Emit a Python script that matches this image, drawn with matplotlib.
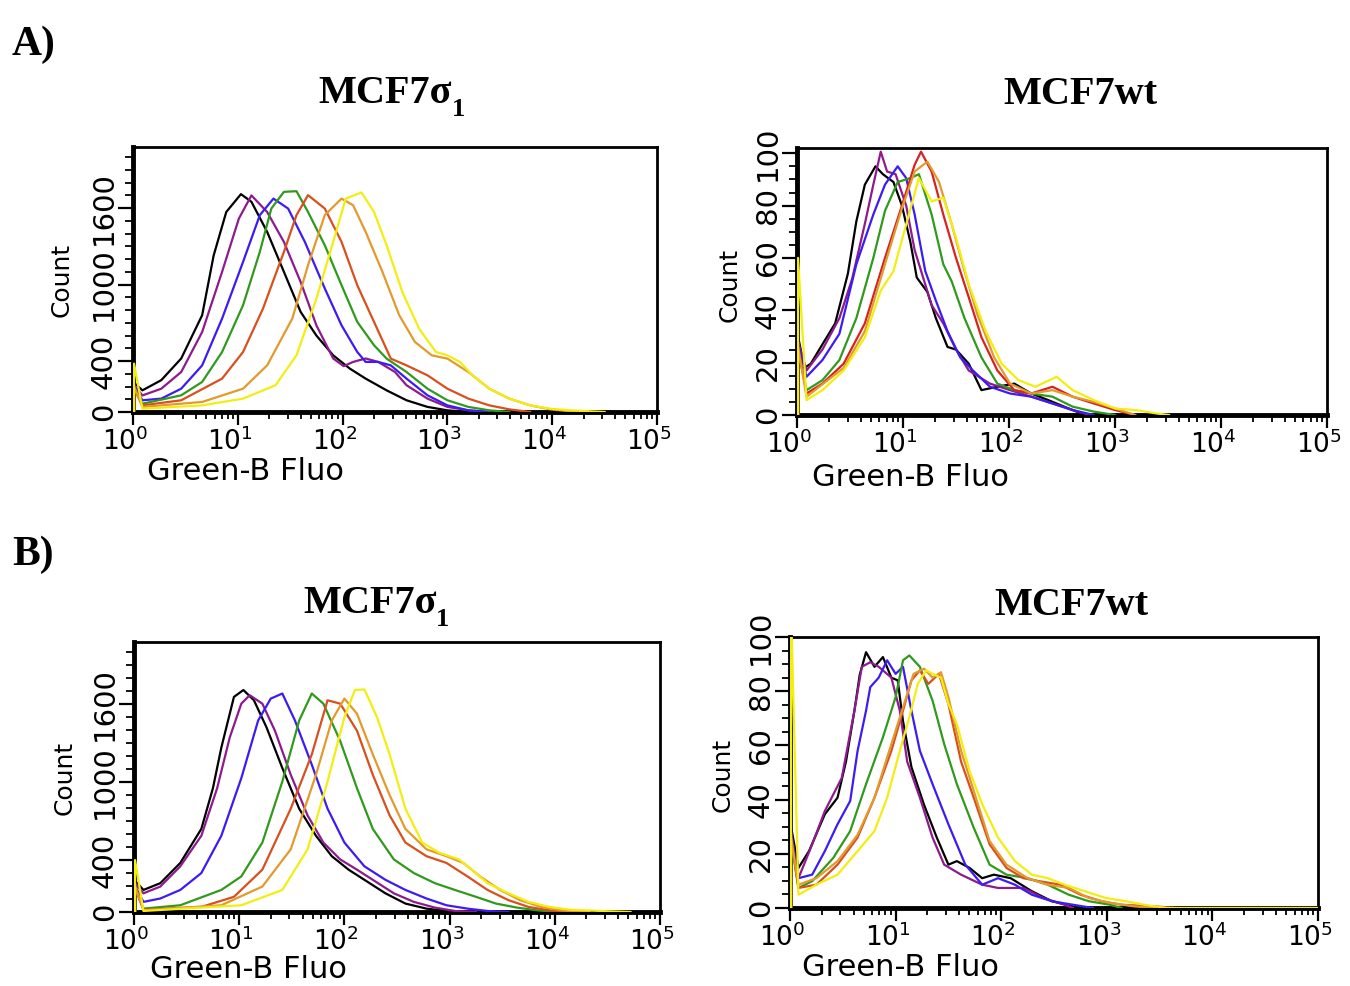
import numpy as np
import matplotlib
matplotlib.use('Agg')
import matplotlib.pyplot as plt
import matplotlib.transforms as mtransforms
from matplotlib.ticker import FixedLocator, MultipleLocator, LogLocator, NullFormatter

W, H = 1350, 986

# line colours of the histograms
black = '#000000'
purple = '#8E1B8E'
blue = '#3C1CF2'
green = '#2F9A1B'
redorange = '#D8501E'
orange = '#E39A2C'
yellow = '#F2EE10'
red = '#D42322'

# (log10 Green-B Fluo, Count)
# --- A) MCF7sigma1
a_sig_black = [(0.01, 0), (0.01, 230), (0.09, 170), (0.27, 250), (0.46, 420), (0.66, 760), (0.77, 1230), (0.89, 1570),
               (1.03, 1710), (1.13, 1650), (1.28, 1414), (1.44, 1100), (1.60, 785), (1.75, 600), (1.91, 445), (2.07, 340),
               (2.22, 262), (2.42, 170), (2.61, 92), (2.81, 40), (3.0, 13), (3.2, 0)]
a_sig_purple = [(0.01, 0), (0.01, 210), (0.09, 130), (0.27, 183), (0.46, 314), (0.66, 628), (0.85, 1100), (1.01, 1518),
                (1.13, 1700), (1.28, 1570), (1.44, 1335), (1.60, 1020), (1.75, 680), (1.91, 420), (2.01, 360), (2.10, 393),
                (2.22, 420), (2.34, 393), (2.50, 314), (2.61, 210), (2.81, 105), (3.0, 40), (3.2, 13), (3.4, 0)]
a_sig_blue = [(0.01, 0), (0.01, 200), (0.09, 92), (0.27, 105), (0.46, 183), (0.66, 366), (0.85, 733), (1.05, 1178),
              (1.21, 1545), (1.34, 1675), (1.48, 1597), (1.64, 1335), (1.83, 970), (1.99, 680), (2.14, 471), (2.22, 393),
              (2.34, 393), (2.46, 366), (2.61, 262), (2.81, 131), (3.0, 52), (3.2, 13), (3.4, 0)]
a_sig_green = [(0.01, 0), (0.01, 190), (0.09, 65), (0.46, 131), (0.66, 236), (0.85, 471), (1.05, 838), (1.21, 1257),
               (1.32, 1597), (1.44, 1728), (1.56, 1733), (1.67, 1570), (1.83, 1309), (1.99, 995), (2.14, 707), (2.30, 524),
               (2.42, 419), (2.61, 314), (2.81, 183), (3.0, 92), (3.2, 40), (3.4, 13), (3.59, 0)]
a_sig_redorange = [(0.01, 0), (0.01, 180), (0.09, 52), (0.46, 92), (0.85, 262), (1.05, 471), (1.24, 811), (1.44, 1257),
                   (1.56, 1545), (1.67, 1702), (1.83, 1597), (1.99, 1335), (2.14, 995), (2.30, 707), (2.46, 419),
                   (2.61, 366), (2.81, 288), (3.0, 183), (3.2, 105), (3.4, 52), (3.59, 21), (3.79, 0)]
a_sig_orange = [(0.01, 0), (0.01, 200), (0.09, 40), (0.66, 79), (1.05, 183), (1.28, 366), (1.52, 733), (1.67, 1152),
                (1.83, 1545), (1.99, 1675), (2.10, 1623), (2.22, 1414), (2.38, 1100), (2.54, 760), (2.69, 550),
                (2.85, 445), (3.0, 419), (3.2, 314), (3.4, 183), (3.59, 105), (3.79, 52), (3.98, 21), (4.18, 5), (4.37, 0)]
a_sig_yellow = [(0.01, 0), (0.01, 380), (0.09, 26), (0.66, 52), (1.05, 105), (1.36, 210), (1.56, 445), (1.75, 890),
                (1.91, 1335), (2.03, 1675), (2.18, 1723), (2.30, 1570), (2.42, 1309), (2.57, 942), (2.73, 654),
                (2.89, 471), (3.0, 445), (3.12, 393), (3.24, 288), (3.40, 183), (3.59, 105), (3.79, 52), (3.98, 26),
                (4.18, 13), (4.37, 5), (4.5, 0)]

# --- A) MCF7wt
a_wt_black = [(0.01, 0), (0.01, 30), (0.07, 18), (0.13, 19.6), (0.24, 27), (0.36, 35), (0.48, 54), (0.56, 74), (0.64, 88),
              (0.74, 95), (0.81, 92), (0.91, 89), (0.99, 80), (1.07, 66), (1.13, 52.5), (1.23, 47), (1.31, 37),
              (1.42, 26), (1.50, 25), (1.62, 19.6), (1.74, 9.5), (1.89, 10.8), (2.05, 12), (2.21, 8.2), (2.37, 5.7),
              (2.52, 3.2), (2.68, 0.6), (2.76, 0)]
a_wt_purple = [(0.01, 0), (0.01, 28), (0.09, 17), (0.24, 25), (0.40, 37), (0.52, 52), (0.64, 73), (0.72, 88),
               (0.79, 100.6), (0.85, 93), (0.93, 92), (1.03, 80), (1.11, 63), (1.19, 52.5), (1.27, 42), (1.38, 35),
               (1.50, 25), (1.62, 17), (1.82, 12), (2.01, 9.5), (2.21, 7), (2.41, 4.4), (2.60, 1.9), (2.76, 0)]
a_wt_blue = [(0.01, 0), (0.01, 27), (0.09, 14.6), (0.24, 21), (0.40, 31), (0.56, 57.6), (0.72, 76.6), (0.83, 88),
             (0.95, 95), (1.03, 90.5), (1.11, 76.6), (1.21, 55), (1.31, 43.7), (1.42, 32), (1.54, 22), (1.66, 17),
             (1.82, 10.8), (2.01, 8.2), (2.21, 7), (2.41, 4.4), (2.60, 1.9), (2.80, 0)]
a_wt_green = [(0.01, 0), (0.01, 25), (0.09, 9.5), (0.24, 13.3), (0.40, 21), (0.56, 37), (0.72, 60), (0.83, 78),
              (0.95, 89), (1.07, 90.5), (1.15, 92), (1.27, 76.6), (1.38, 57.6), (1.46, 51), (1.58, 37), (1.74, 22),
              (1.89, 12), (2.05, 9.5), (2.21, 8.2), (2.41, 7), (2.60, 3.2), (2.80, 1.3), (3.0, 0)]
a_wt_red = [(0.01, 0), (0.01, 26), (0.09, 8.2), (0.24, 12), (0.44, 19.6), (0.64, 35), (0.83, 60), (0.99, 80),
            (1.11, 95.6), (1.17, 100.6), (1.27, 93), (1.38, 76.6), (1.50, 60), (1.62, 45), (1.74, 29.7), (1.89, 17),
            (2.05, 9.5), (2.21, 8.2), (2.41, 10.8), (2.60, 7), (2.80, 4.4), (3.0, 1.9), (3.19, 0)]
a_wt_orange = [(0.01, 0), (0.01, 26), (0.09, 7), (0.44, 18), (0.64, 32), (0.83, 57.6), (0.99, 79), (1.11, 93),
               (1.23, 96.8), (1.34, 89), (1.46, 72.8), (1.58, 55), (1.70, 38.6), (1.86, 22), (2.01, 12), (2.21, 8.2),
               (2.41, 9.5), (2.60, 7), (2.80, 5), (3.0, 2.5), (3.19, 0)]
a_wt_yellow = [(0.01, 0), (0.01, 60), (0.09, 5.7), (0.24, 9.5), (0.44, 17), (0.64, 29.7), (0.79, 47.5), (0.91, 55),
               (1.03, 72.8), (1.15, 90.5), (1.27, 81.6), (1.38, 83), (1.50, 67.7), (1.62, 50), (1.78, 32), (1.93, 19.6),
               (2.09, 13.3), (2.25, 10.8), (2.45, 14.6), (2.60, 9.5), (2.80, 5.7), (3.0, 2.5), (3.19, 1.9), (3.39, 0.6),
               (3.51, 0)]

# --- B) MCF7sigma1
b_sig_black = [(0.01, 0), (0.01, 240), (0.09, 170), (0.25, 222), (0.44, 378), (0.64, 640), (0.75, 953), (0.83, 1266),
               (0.95, 1657), (1.04, 1710), (1.14, 1631), (1.26, 1422), (1.41, 1109), (1.57, 796), (1.73, 587),
               (1.88, 430), (2.04, 326), (2.19, 248), (2.39, 144), (2.58, 65), (2.78, 26), (2.97, 8), (3.17, 0)]
b_sig_purple = [(0.01, 0), (0.01, 220), (0.09, 144), (0.25, 196), (0.44, 352), (0.64, 587), (0.79, 953), (0.91, 1344),
                (1.02, 1605), (1.10, 1670), (1.22, 1605), (1.34, 1396), (1.49, 1057), (1.65, 744), (1.80, 535),
                (1.96, 405), (2.12, 326), (2.27, 248), (2.47, 144), (2.66, 78), (2.86, 34), (3.05, 8), (3.25, 0)]
b_sig_blue = [(0.01, 0), (0.01, 200), (0.09, 78), (0.25, 104), (0.44, 170), (0.64, 300), (0.83, 587), (1.02, 1031),
              (1.18, 1475), (1.30, 1644), (1.41, 1683), (1.53, 1475), (1.69, 1135), (1.84, 796), (2.0, 535),
              (2.19, 352), (2.39, 248), (2.58, 170), (2.78, 104), (2.97, 52), (3.17, 26), (3.36, 8), (3.56, 0)]
b_sig_green = [(0.01, 0), (0.01, 190), (0.09, 26), (0.44, 52), (0.83, 170), (1.02, 274), (1.22, 535), (1.41, 1005),
               (1.57, 1475), (1.69, 1683), (1.80, 1605), (1.96, 1318), (2.12, 953), (2.27, 640), (2.47, 405),
               (2.66, 300), (2.86, 222), (3.05, 170), (3.25, 117), (3.44, 65), (3.64, 34), (3.83, 13), (4.03, 0)]
b_sig_redorange = [(0.01, 0), (0.01, 180), (0.09, 18), (0.64, 39), (0.95, 117), (1.22, 326), (1.49, 796), (1.69, 1214),
                   (1.84, 1631), (1.96, 1605), (2.12, 1396), (2.27, 1057), (2.43, 744), (2.58, 535), (2.78, 430),
                   (2.97, 378), (3.17, 274), (3.36, 170), (3.56, 91), (3.75, 39), (3.95, 13), (4.14, 0)]
b_sig_orange = [(0.01, 0), (0.01, 200), (0.09, 13), (0.83, 52), (1.22, 196), (1.49, 483), (1.73, 1057), (1.88, 1475),
                (2.0, 1644), (2.12, 1527), (2.27, 1214), (2.43, 900), (2.58, 640), (2.78, 483), (2.97, 430),
                (3.13, 378), (3.29, 274), (3.48, 170), (3.67, 91), (3.87, 39), (4.06, 13), (4.33, 0)]
b_sig_yellow = [(0.01, 0), (0.01, 400), (0.09, 8), (1.02, 52), (1.41, 170), (1.65, 483), (1.84, 1005), (2.0, 1501),
                (2.10, 1710), (2.19, 1715), (2.31, 1501), (2.43, 1214), (2.58, 796), (2.74, 535), (2.90, 457),
                (3.09, 405), (3.21, 326), (3.36, 222), (3.56, 144), (3.75, 78), (3.95, 39), (4.14, 18), (4.53, 5),
                (4.72, 0)]

# --- B) MCF7wt
b_wt_black = [(0.01, 0), (0.01, 30), (0.08, 14.8), (0.18, 21), (0.33, 34.6), (0.45, 40.7), (0.53, 54), (0.61, 72.8),
              (0.66, 86), (0.72, 94.4), (0.80, 89), (0.88, 92.6), (0.96, 85), (1.02, 84), (1.07, 69), (1.15, 52),
              (1.27, 38), (1.39, 26), (1.50, 16), (1.58, 17.3), (1.70, 14.8), (1.82, 11), (1.93, 12.3), (2.09, 11),
              (2.29, 6.2), (2.48, 2.5), (2.68, 0.6), (2.75, 0)]
b_wt_purple = [(0.01, 0), (0.01, 28), (0.08, 11), (0.21, 23.5), (0.33, 35.8), (0.49, 48), (0.61, 72.8), (0.68, 89),
               (0.76, 90.7), (0.84, 89), (0.96, 85), (1.04, 72.8), (1.11, 54), (1.23, 40.7), (1.35, 26), (1.46, 16),
               (1.62, 12.3), (1.82, 8.6), (1.97, 7.4), (2.21, 7.4), (2.40, 3.7), (2.60, 1.2), (2.68, 0)]
b_wt_blue = [(0.01, 0), (0.01, 27), (0.08, 11), (0.21, 12.3), (0.33, 21), (0.45, 30.9), (0.57, 39.5), (0.64, 58),
             (0.72, 72.8), (0.76, 81.5), (0.84, 85), (0.92, 91.4), (1.0, 86.4), (1.07, 89), (1.15, 72.8), (1.23, 58),
             (1.35, 45.7), (1.50, 30.9), (1.66, 16), (1.82, 8.6), (1.97, 11), (2.13, 8.6), (2.29, 4.9), (2.48, 2.5),
             (2.68, 1.2), (2.87, 0)]
b_wt_green = [(0.01, 0), (0.01, 25), (0.08, 7.4), (0.21, 9.9), (0.41, 18.5), (0.57, 28.4), (0.72, 45.7), (0.88, 63),
              (1.0, 77.8), (1.07, 91.4), (1.13, 93.2), (1.23, 89), (1.35, 76.5), (1.46, 60.5), (1.58, 45.7),
              (1.74, 29.6), (1.89, 16), (2.05, 12.3), (2.25, 11), (2.44, 8.6), (2.64, 4.9), (2.83, 2.5), (3.03, 1.2),
              (3.14, 0)]
b_wt_redorange = [(0.01, 0), (0.01, 26), (0.08, 7.4), (0.25, 8.6), (0.45, 16), (0.64, 26), (0.80, 40.7), (0.96, 58),
                  (1.07, 72.8), (1.15, 84), (1.23, 87.7), (1.31, 82.7), (1.41, 86.4), (1.50, 75.3), (1.62, 54),
                  (1.74, 40.7), (1.89, 23.5), (2.05, 14.8), (2.21, 11), (2.36, 9.9), (2.56, 8.6), (2.75, 4.9),
                  (2.95, 2.5), (3.14, 1.2), (3.46, 0.6), (3.65, 0)]
b_wt_orange = [(0.01, 0), (0.01, 26), (0.08, 8.6), (0.25, 11), (0.45, 17.3), (0.64, 27), (0.80, 40.7), (0.96, 60.5),
               (1.07, 74), (1.17, 86.4), (1.27, 88.3), (1.35, 85), (1.43, 87), (1.50, 77.8), (1.62, 58), (1.74, 43.2),
               (1.89, 24.7), (2.05, 16), (2.25, 11), (2.44, 8.6), (2.64, 7.4), (2.83, 3.7), (3.03, 1.9), (3.26, 0.6),
               (3.46, 0)]
b_wt_yellow = [(0.01, 0), (0.01, 110), (0.08, 4.9), (0.25, 8.6), (0.45, 12.3), (0.64, 21), (0.80, 28.4), (0.92, 40.7),
               (1.04, 58), (1.13, 70.4), (1.21, 82.7), (1.29, 87.7), (1.35, 86.4), (1.43, 85), (1.50, 75.3),
               (1.58, 67.9), (1.70, 50.6), (1.82, 38.3), (1.97, 26), (2.13, 17.3), (2.29, 12.3), (2.44, 11),
               (2.60, 8.6), (2.79, 6.2), (2.99, 3.7), (3.18, 2.5), (3.38, 1), (3.57, 0), (5.0, 0)]

sig_yticks = [0, 400, 1000, 1600]
wt_yticks = [0, 20, 40, 60, 80, 100]
decades = [0, 1, 2, 3, 4, 5]


def px(x, y):
    return x / W, 1 - y / H


def box(left, top, right, bottom):
    return [left / W, 1 - bottom / H, (right - left) / W, (bottom - top) / H]


def panel(rect, curves, ymax, yticks, yminor):
    ax = fig.add_axes(rect)
    for pts, col in curves:
        lx = np.array([p[0] for p in pts])
        cnt = [p[1] for p in pts]
        ax.plot(10 ** lx, cnt, color=col, lw=1.6, zorder=3)
    ax.set_xscale('log')
    ax.set_xlim(1, 1e5)
    ax.set_ylim(0, ymax)
    ax.xaxis.set_major_locator(FixedLocator([10.0 ** d for d in decades]))
    ax.xaxis.set_minor_locator(LogLocator(base=10, subs=np.arange(2, 10), numticks=20))
    ax.xaxis.set_minor_formatter(NullFormatter())
    ax.set_xticklabels([r'$10^{%d}$' % d for d in decades])
    ax.yaxis.set_major_locator(FixedLocator(yticks))
    ax.yaxis.set_minor_locator(MultipleLocator(yminor))
    ax.set_yticklabels([str(t) for t in yticks], rotation=90, va='center')
    ax.tick_params(axis='x', which='major', length=9, width=1.6, labelsize=19, pad=2)
    ax.tick_params(axis='x', which='minor', length=5, width=1.3)
    ax.tick_params(axis='y', which='major', length=11, width=1.6, labelsize=21, pad=0)
    ax.tick_params(axis='y', which='minor', length=6, width=1.3)
    shift = mtransforms.ScaledTranslation(-8 / 100, 0, fig.dpi_scale_trans)
    for lab in ax.get_xticklabels():
        lab.set_transform(lab.get_transform() + shift)
    ax.spines['left'].set_linewidth(3.5)
    ax.spines['bottom'].set_linewidth(3.5)
    ax.spines['top'].set_linewidth(2)
    ax.spines['right'].set_linewidth(2)
    return ax


fig = plt.figure(figsize=(W / 100, H / 100), dpi=100)

sig_cols = [black, purple, blue, green, redorange, orange, yellow]
panel(box(133, 147, 657, 412),
      list(zip([a_sig_black, a_sig_purple, a_sig_blue, a_sig_green, a_sig_redorange, a_sig_orange, a_sig_yellow],
               sig_cols)), 2080, sig_yticks, 100)
panel(box(797, 148, 1327, 415),
      list(zip([a_wt_black, a_wt_purple, a_wt_blue, a_wt_green, a_wt_red, a_wt_orange, a_wt_yellow],
               [black, purple, blue, green, red, orange, yellow])), 102, wt_yticks, 5)
panel(box(134, 642, 660, 912),
      list(zip([b_sig_black, b_sig_purple, b_sig_blue, b_sig_green, b_sig_redorange, b_sig_orange, b_sig_yellow],
               sig_cols)), 2080, sig_yticks, 100)
panel(box(790, 637, 1318, 908),
      list(zip([b_wt_black, b_wt_purple, b_wt_blue, b_wt_green, b_wt_redorange, b_wt_orange, b_wt_yellow],
               sig_cols)), 100, wt_yticks, 5)

# axis labels
for x, y in [(62, 280), (730, 285), (65, 778), (723, 775)]:
    fig.text(*px(x, y), 'Count', rotation=90, ha='center', va='center', fontsize=18)
for x, y in [(245, 472), (910, 478), (248, 970), (900, 968)]:
    fig.text(*px(x, y), 'Green-B Fluo', ha='center', va='center', fontsize=22)

# titles and panel letters
serif = dict(family='Liberation Serif', weight='bold')
for x, y in [(385, 103), (370, 613)]:
    fig.text(*px(x, y), 'MCF7\u03c3', ha='center', va='baseline', fontsize=29, **serif)
    fig.text(*px(x + 73, y + 13), '1', ha='center', va='baseline', fontsize=19, **serif)
for x, y in [(1080, 104), (1071, 615)]:
    fig.text(*px(x, y), 'MCF7wt', ha='center', va='baseline', fontsize=29, **serif)
fig.text(*px(12, 55), 'A)', ha='left', va='baseline', fontsize=30, **serif)
fig.text(*px(12, 565), 'B)', ha='left', va='baseline', fontsize=30, **serif)

fig.savefig('out.png', dpi=100)
